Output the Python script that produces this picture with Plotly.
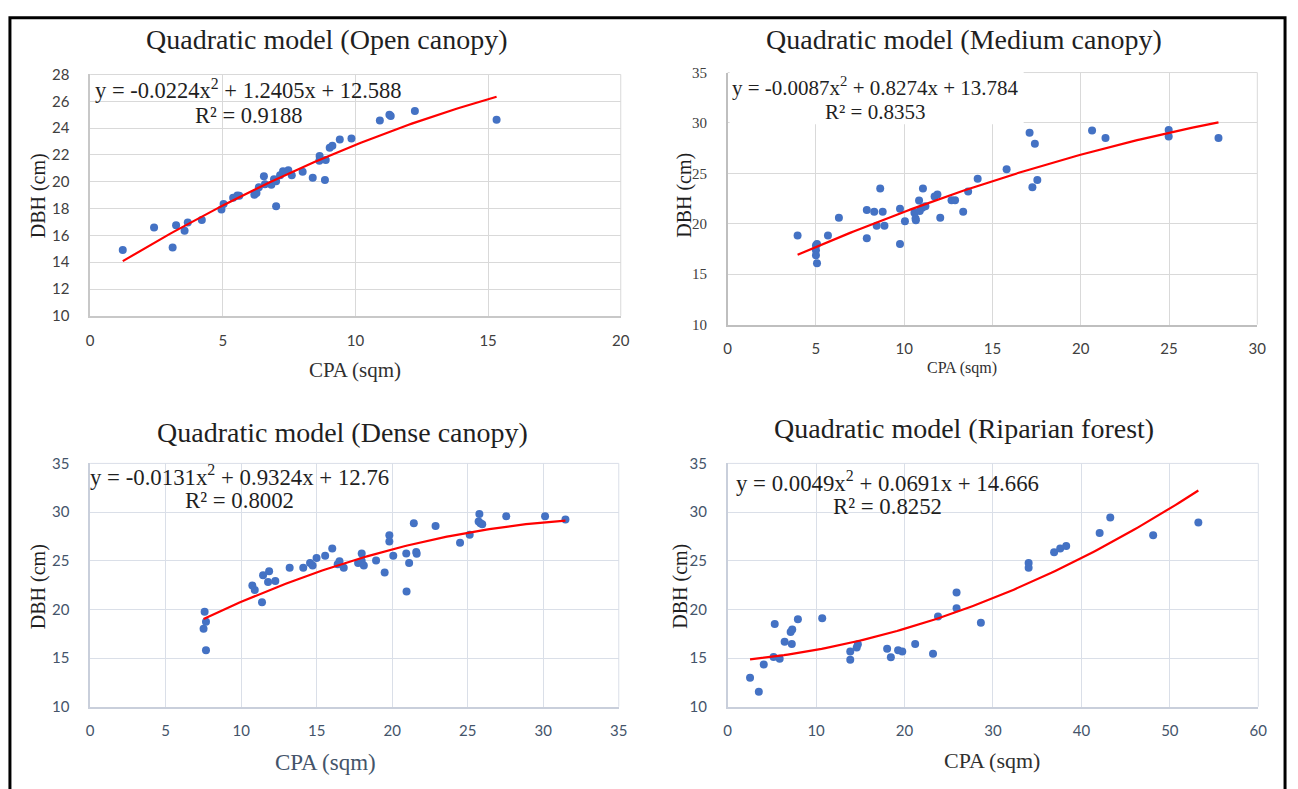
import numpy as np
import plotly.graph_objects as go

W, H = 1298, 789

# ---- Open canopy ----
open_cpa = [1.23, 2.41, 3.11, 3.24, 3.56, 3.68, 4.21, 4.95, 5.03, 5.39, 5.55, 5.62,
            6.19, 6.27, 6.36, 6.55, 6.59, 6.83, 6.93, 7.01, 7.01, 7.16, 7.27, 7.47,
            7.60, 8.01, 8.39, 8.65, 8.64, 8.88, 8.85, 9.03, 9.13, 9.41, 9.85, 10.92,
            11.28, 11.33, 12.24, 15.32]
open_dbh = [14.91, 16.59, 15.10, 16.75, 16.35, 16.97, 17.14, 17.93, 18.34, 18.81, 18.98, 18.95,
            19.03, 19.17, 19.60, 20.42, 19.82, 19.77, 20.18, 20.04, 18.17, 20.49, 20.78, 20.85,
            20.49, 20.75, 20.30, 21.93, 21.57, 21.62, 20.13, 22.53, 22.69, 23.15, 23.22, 24.56,
            24.99, 24.90, 25.28, 24.63]
open_coef = (-0.0224, 1.2405, 12.588)
open_r2 = "0.9188"

# ---- Medium canopy ----
med_cpa = [3.96, 5.00, 5.06, 5.00, 5.00, 5.06, 5.68, 6.30, 7.88, 7.88, 8.30, 8.44,
           8.64, 8.78, 8.88, 9.76, 9.76, 10.04, 10.58, 10.64, 10.66, 10.84, 10.88, 11.02,
           11.06, 11.20, 11.72, 11.88, 12.04, 12.68, 12.88, 13.34, 13.62, 14.16, 15.80,
           17.10, 17.26, 17.40, 17.54, 20.64, 21.40, 24.98, 24.98, 27.80]
med_dbh = [18.83, 17.86, 17.99, 17.38, 16.89, 16.08, 18.83, 20.61, 18.58, 21.36, 21.20, 19.81,
           23.50, 21.20, 19.81, 21.49, 17.99, 20.26, 21.10, 20.52, 20.36, 22.30, 21.26, 21.59,
           23.50, 21.75, 22.72, 22.91, 20.61, 22.33, 22.33, 21.20, 23.20, 24.47, 25.40,
           29.03, 23.62, 27.93, 24.34, 29.26, 28.51, 29.29, 28.67, 28.51]
med_coef = (-0.0087, 0.8274, 13.784)
med_r2 = "0.8353"

# ---- Dense canopy ----
dense_cpa = [7.58, 7.51, 7.67, 7.67, 10.74, 10.90, 11.38, 11.45, 11.78, 11.85, 12.26, 13.21,
             14.11, 14.56, 14.73, 14.99, 15.56, 16.03, 16.39, 16.51, 16.79, 17.74, 17.98, 17.98,
             18.12, 18.93, 19.50, 19.81, 19.81, 20.07, 20.93, 20.95, 21.12, 21.43, 21.59, 21.62,
             22.87, 24.49, 25.13, 25.72, 25.77, 25.84, 25.96, 27.55, 30.12, 31.47]
dense_dbh = [19.77, 18.01, 18.74, 15.81, 22.46, 21.99, 20.73, 23.52, 22.82, 23.92, 22.92, 24.29,
             24.29, 24.78, 24.52, 25.28, 25.51, 26.25, 24.65, 24.95, 24.29, 24.78, 25.75, 24.98,
             24.52, 25.02, 23.79, 27.61, 26.98, 25.51, 25.75, 21.83, 24.78, 28.84, 25.91, 25.71,
             28.57, 26.84, 27.67, 29.04, 29.80, 28.84, 28.74, 29.57, 29.57, 29.24]
dense_coef = (-0.0131, 0.9324, 12.76)
dense_r2 = "0.8002"

# ---- Riparian forest ----
rip_cpa = [2.53, 3.52, 4.08, 5.19, 5.32, 5.88, 6.44, 7.12, 7.30, 7.25, 7.94, 10.69,
           13.86, 13.86, 14.59, 14.72, 18.03, 18.45, 19.27, 19.74, 21.20, 23.22, 23.78,
           25.88, 25.88, 28.63, 34.03, 34.03, 36.91, 37.60, 38.28, 42.06, 43.26, 48.11, 53.22]
rip_dbh = [12.99, 11.53, 14.35, 15.12, 18.50, 14.92, 16.68, 17.67, 17.94, 16.45, 19.00, 19.10,
           15.68, 14.82, 16.08, 16.41, 15.95, 15.08, 15.81, 15.68, 16.45, 15.45, 19.27,
           21.73, 20.13, 18.64, 24.78, 24.29, 25.88, 26.25, 26.51, 27.84, 29.43, 27.61, 28.94]
rip_coef = (0.0049, 0.0691, 14.666)
rip_r2 = "0.8252"

SERIF = "Liberation Serif"
SANS = "Lato"
DOT = "#4472C4"
FIT = "#FF0000"
INK = "#1f1f1f"


def px(x):
    return x / W


def py(y):
    return 1 - y / H


def eq_text(c):
    a, b, k = c
    return f"y = {a:g}x<sup>2</sup> + {b:g}x + {k:g}"


panels = [
    dict(title="Quadratic model (Open canopy)", cpa=open_cpa, dbh=open_dbh, coef=open_coef, r2=open_r2,
         box=(87, 623, 66, 313), xr=(0, 20), xd=5, yr=(10, 28), yd=2,
         grid="#d9d9d9", axis="#c8c8c8", tick="#404040", xt_col="#303030", xt_size=21,
         title_xy=(326, 30), eq_xy=(247, 81), r2_xy=(247, 108), eq_size=22.5,
         ylab_xy=(35, 190), xlab_xy=(355, 368), eq_bg=None, ytick_font=SANS),
    dict(title="Quadratic model (Medium canopy)", cpa=med_cpa, dbh=med_dbh, coef=med_coef, r2=med_r2,
         box=(731, 1266, 64, 322), xr=(0, 30), xd=5, yr=(10, 35), yd=5,
         grid="#d9d9d9", axis="#bfbfbf", tick="#404040", xt_col="#303030", xt_size=16,
         title_xy=(970, 30), eq_xy=(880, 78), r2_xy=(880, 104), eq_size=21,
         ylab_xy=(688, 190), xlab_xy=(968, 366), eq_bg=(733, 1030, 62, 117), ytick_font=SERIF),
    dict(title="Quadratic model (Dense canopy)", cpa=dense_cpa, dbh=dense_dbh, coef=dense_coef, r2=dense_r2,
         box=(87, 621, 464, 713), xr=(0, 35), xd=5, yr=(10, 35), yd=5,
         grid="#dadfe8", axis="#c9cfdb", tick="#44546A", xt_col="#44546A", xt_size=23,
         title_xy=(342, 432), eq_xy=(238, 476), r2_xy=(238, 502), eq_size=22.8,
         ylab_xy=(35, 590), xlab_xy=(325, 770), eq_bg=None, ytick_font=SANS),
    dict(title="Quadratic model (Riparian forest)", cpa=rip_cpa, dbh=rip_dbh, coef=rip_coef, r2=rip_r2,
         box=(731, 1267, 464, 713), xr=(0, 60), xd=10, yr=(10, 35), yd=5,
         grid="#dadfe8", axis="#c9cfdb", tick="#44546A", xt_col="#303030", xt_size=22,
         title_xy=(970, 428), eq_xy=(892, 483), r2_xy=(892, 508), eq_size=22.8,
         ylab_xy=(683, 590), xlab_xy=(998, 768), eq_bg=None, ytick_font=SANS),
]

fig = go.Figure()
annotations = []
shapes = []
layout_axes = {}

for i, p in enumerate(panels, start=1):
    xa = "x" if i == 1 else f"x{i}"
    ya = "y" if i == 1 else f"y{i}"
    x0, x1, ytop, ybot = p["box"]

    fig.add_trace(go.Scatter(
        x=p["cpa"], y=p["dbh"], mode="markers", xaxis=xa, yaxis=ya,
        marker=dict(color=DOT, size=8, line=dict(width=0)), showlegend=False,
        hoverinfo="x+y"))

    a, b, k = p["coef"]
    xs = np.linspace(min(p["cpa"]), max(p["cpa"]), 120)
    fig.add_trace(go.Scatter(
        x=xs, y=a * xs ** 2 + b * xs + k, mode="lines", xaxis=xa, yaxis=ya,
        line=dict(color=FIT, width=2.2), showlegend=False, hoverinfo="skip"))

    xkey = "xaxis" if i == 1 else f"xaxis{i}"
    ykey = "yaxis" if i == 1 else f"yaxis{i}"
    layout_axes[xkey] = dict(
        domain=[px(x0), px(x1)], anchor=ya, range=list(p["xr"]), dtick=p["xd"], tick0=0,
        showgrid=True, gridcolor=p["grid"], gridwidth=1, zeroline=False,
        showline=True, linecolor=p["axis"], linewidth=1.5, mirror=False,
        ticks="", ticklabelstandoff=10,
        tickfont=dict(family=SANS, size=15, color=p["tick"]), fixedrange=True)
    layout_axes[ykey] = dict(
        domain=[py(ybot), py(ytop)], anchor=xa, range=list(p["yr"]), dtick=p["yd"], tick0=0,
        showgrid=True, gridcolor=p["grid"], gridwidth=1, zeroline=False,
        showline=True, linecolor=p["axis"], linewidth=1.5,
        ticks="", ticklabelstandoff=16,
        tickfont=dict(family=p["ytick_font"], size=15, color=p["tick"]), fixedrange=True)

    # plot-area outline along the top and right edges
    shapes.append(dict(type="line", xref="paper", yref="paper",
                       x0=px(x0), x1=px(x1), y0=py(ytop), y1=py(ytop),
                       line=dict(color=p["grid"], width=1), layer="below"))
    shapes.append(dict(type="line", xref="paper", yref="paper",
                       x0=px(x1), x1=px(x1), y0=py(ybot), y1=py(ytop),
                       line=dict(color=p["grid"], width=1), layer="below"))

    if p["eq_bg"] is not None:
        bx0, bx1, by0, by1 = p["eq_bg"]
        shapes.append(dict(type="rect", xref="paper", yref="paper",
                           x0=px(bx0), x1=px(bx1), y0=py(by1), y1=py(by0),
                           fillcolor="white", line=dict(width=0), layer="above"))

    tx, ty = p["title_xy"]
    annotations.append(dict(text=p["title"], x=px(tx), y=py(ty), xref="paper", yref="paper",
                            showarrow=False, xanchor="center", yanchor="middle",
                            font=dict(family=SERIF, size=28, color=INK)))
    ex, ey = p["eq_xy"]
    annotations.append(dict(text=eq_text(p["coef"]), x=px(ex), y=py(ey), xref="paper", yref="paper",
                            showarrow=False, xanchor="center", yanchor="middle",
                            font=dict(family=SERIF, size=p["eq_size"], color=INK)))
    rx, ry = p["r2_xy"]
    annotations.append(dict(text=f"R² = {p['r2']}", x=px(rx), y=py(ry), xref="paper", yref="paper",
                            showarrow=False, xanchor="center", yanchor="middle",
                            font=dict(family=SERIF, size=p["eq_size"], color=INK)))
    lx, ly = p["ylab_xy"]
    annotations.append(dict(text="DBH (cm)", x=px(lx), y=py(ly), xref="paper", yref="paper",
                            showarrow=False, xanchor="center", yanchor="middle", textangle=-90,
                            font=dict(family=SERIF, size=20, color=INK)))
    cx, cy = p["xlab_xy"]
    annotations.append(dict(text="CPA (sqm)", x=px(cx), y=py(cy), xref="paper", yref="paper",
                            showarrow=False, xanchor="center", yanchor="middle",
                            font=dict(family=SERIF, size=p["xt_size"], color=p["xt_col"])))

# outer frame
shapes.append(dict(type="rect", xref="paper", yref="paper",
                   x0=px(6), x1=px(1294), y0=py(800), y1=py(8),
                   line=dict(color="black", width=3), fillcolor="rgba(0,0,0,0)", layer="above"))

fig.update_layout(
    width=W, height=H, margin=dict(l=0, r=0, t=0, b=0),
    paper_bgcolor="white", plot_bgcolor="white",
    annotations=annotations, shapes=shapes, showlegend=False,
    **layout_axes)

fig.write_html("out.html", config={"displayModeBar": False})
